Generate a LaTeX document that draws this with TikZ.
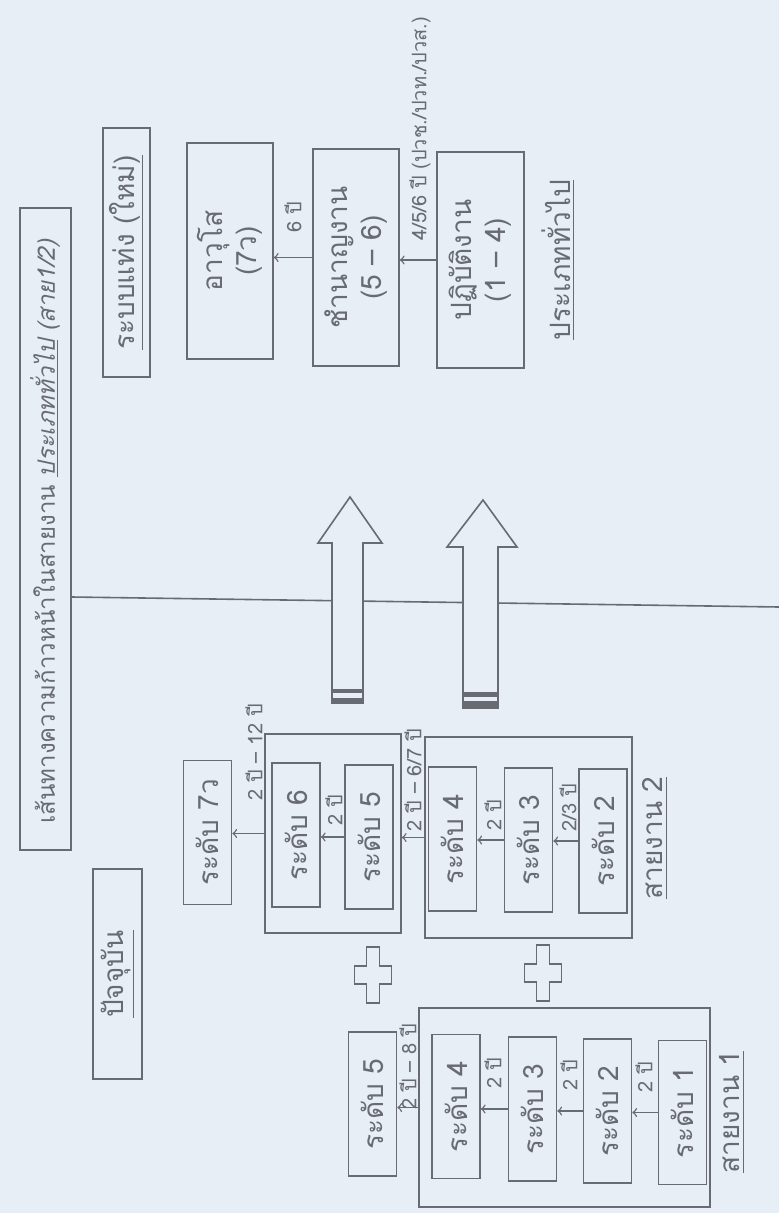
\documentclass[tikz,border=0pt]{standalone}
\usepackage{fontspec}
\usepackage{tikz}
\newfontfamily\thaifont[Script=Thai]{Loma}
\definecolor{paper}{RGB}{232,238,246}
\definecolor{ink}{RGB}{104,107,114}
\tikzset{
  box/.style={draw=ink, line width=0.8pt, rotate=90, inner sep=0pt, text=ink, font=\thaifont\fontsize{14}{17}\selectfont},
  lvlbox/.style={box, minimum width=72pt, minimum height=24pt},
  tagtext/.style={rotate=90, inner sep=1pt, text=ink, font=\thaifont\fontsize{10}{12}\selectfont},
  headtext/.style={rotate=90, inner sep=1pt, text=ink, font=\thaifont\fontsize{14}{17}\selectfont},
  link/.style={draw=ink, line width=0.7pt, ->},
  bigarrow/.style={draw=ink, line width=0.8pt, fill=paper},
}
\begin{document}
\begin{tikzpicture}[x=0.5pt, y=-0.5pt]
        \fill [paper] (0,0) rectangle (779,1213);
        \useasboundingbox (0,0) rectangle (779,1213);
        \node [box, line width=1pt, minimum width=321pt, minimum height=25.5pt] (titlebox) at (45,529) {};  %title
        \node [headtext, anchor=east, font=\thaifont\fontsize{12}{14}\selectfont] (title) at (45,237)
              {เส้นทางความก้าวหน้าในสายงาน \textit{\underline{ประเภททั่วไป} (สาย1/2)}};
        \coordinate (linestart) at (0,597);
        \coordinate (lineend) at (779,607);
        \draw [ink, line width=0.8pt] (titlebox.south |- linestart) -- (lineend);          %
        \node [box, minimum width=124.5pt, minimum height=23.5pt] (newsys) at (126.5,252.5) {\underline{ระบบแท่ง (ใหม่)}};
        \node [box, minimum width=105pt, minimum height=24.5pt] (oldsys) at (117.5,974) {\underline{ปัจจุบัน}};
        \draw [bigarrow] (332,703) -- (332,543) -- (318,543) -- (350,497) -- (382,543) -- (363,543) -- (363,703) -- cycle;
        \fill [ink] (332,689) rectangle (363,693);                                         %
        \fill [ink] (332,698) rectangle (363,703);                                         %
        \draw [bigarrow] (463,708) -- (463,547) -- (447,547) -- (483,500) -- (517,547) -- (498,547) -- (498,708) -- cycle;
        \fill [ink] (463,692) rectangle (498,697);                                         %
        \fill [ink] (463,701) rectangle (498,708);                                         %
        \node [box, minimum width=108pt, minimum height=43pt, align=center] (senior) at (230,251) {อาวุโส\\(7ว)};
        \node [box, minimum width=108.5pt, minimum height=43pt, align=center] (expert) at (356,257.5) {ชำนาญงาน\\(5 – 6)};
        \node [box, minimum width=108pt, minimum height=43.5pt, align=center] (oper) at (480.5,260) {ปฏิบัติงาน\\(1 – 4)};
        \draw [link] (expert.north) -- (expert.north -| senior.south);                     %
        \node [tagtext] (tsix) at (293,217) {6 ปี};                                       %
        \draw [link] (oper.north) -- (oper.north -| expert.south);                         %
        \node [tagtext, anchor=west] (tvoc) at (420,243) {4/5/6 ปี (ปวช./ปวท./ปวส.)};       %
        \node [headtext] (general) at (558,260) {\underline{ประเภททั่วไป}};                %
        \node [lvlbox] (rsevenv) at (207.5,832.5) {ระดับ 7ว};                             %line 2
        \node [box, minimum width=99.5pt, minimum height=68pt] (grpA) at (333,833.5) {};   %
        \node [lvlbox] (rsix) at (296,835) {ระดับ 6};                                     %
        \node [lvlbox] (rfive) at (369,837) {ระดับ 5};                                    %
        \node [box, minimum width=100.5pt, minimum height=103.5pt] (grpB) at (528.5,837.5) {};
        \node [lvlbox] (rfour) at (452.5,839) {ระดับ 4};                                  %
        \node [lvlbox] (rthree) at (528.5,840) {ระดับ 3};                                 %
        \node [lvlbox] (rtwo) at (603,841) {ระดับ 2};                                     %
        \draw [link] (grpA.north) -- (grpA.north -| rsevenv.south);                        %
        \node [tagtext] (ta) at (254,752) {2 ปี – 12 ปี};                                 %
        \draw [link] (rfive.north) -- (rfive.north -| rsix.south);                         %
        \node [tagtext] (tb) at (334,810) {2 ปี};                                         %
        \draw [link] (grpB.north) -- (grpB.north -| grpA.south);                           %
        \node [tagtext] (tc) at (413,780) {2 ปี – 6/7 ปี};                                %
        \draw [link] (rthree.north) -- (rthree.north -| rfour.south);                      %
        \node [tagtext] (td) at (493,815) {2 ปี};                                         %
        \draw [link] (rtwo.north) -- (rtwo.north -| rthree.south);                         %
        \node [tagtext] (te) at (568,808) {2/3 ปี};                                       %
        \node [headtext] (lineB) at (655,838) {\underline{สายงาน 2}};                      %
        \draw [bigarrow] (366.5,947) -- ++(13,0) -- ++(0,19) -- ++(12,0) -- ++(0,18) -- ++(-12,0) -- ++(0,19)
              -- ++(-13,0) -- ++(0,-19) -- ++(-12,0) -- ++(0,-18) -- ++(12,0) -- cycle;   %plus
        \draw [bigarrow] (536.5,945) -- ++(13,0) -- ++(0,19) -- ++(12,0) -- ++(0,18) -- ++(-12,0) -- ++(0,19)
              -- ++(-13,0) -- ++(0,-19) -- ++(-12,0) -- ++(0,-18) -- ++(12,0) -- cycle;   %plus
        \node [lvlbox] (sfive) at (372.5,1104) {ระดับ 5};                                 %line 1
        \node [box, minimum width=99.5pt, minimum height=145.5pt] (grpC) at (564.5,1107.5) {};
        \node [lvlbox] (sfour) at (456,1106.5) {ระดับ 4};                                 %
        \node [lvlbox] (sthree) at (532.5,1109) {ระดับ 3};                                %
        \node [lvlbox] (stwo) at (607.5,1111) {ระดับ 2};                                  %
        \node [lvlbox] (sone) at (682.5,1112.5) {ระดับ 1};                                %
        \draw [link] (grpC.north) -- (grpC.north -| sfive.south);                          %
        \node [tagtext] (tf) at (408,1067) {2 ปี – 8 ปี};                                 %
        \draw [link] (sthree.north) -- (sthree.north -| sfour.south);                      %
        \node [tagtext] (tg) at (493,1073) {2 ปี};                                        %
        \draw [link] (stwo.north) -- (stwo.north -| sthree.south);                         %
        \node [tagtext] (th) at (569,1075) {2 ปี};                                        %
        \draw [link] (sone.north) -- (sone.north -| stwo.south);                           %
        \node [tagtext] (ti) at (644,1077) {2 ปี};                                        %
        \node [headtext] (lineA) at (732,1112) {\underline{สายงาน 1}};                     %
\end{tikzpicture}
\end{document}
